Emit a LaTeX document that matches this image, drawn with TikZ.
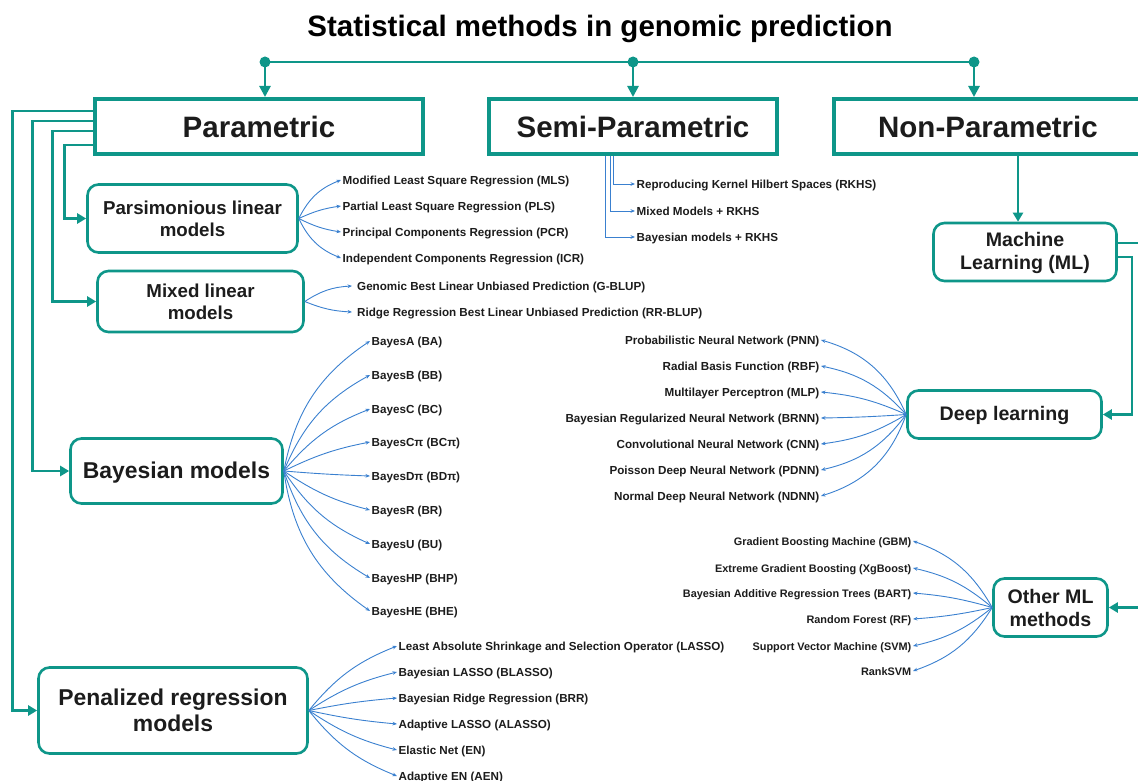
\documentclass[tikz,border=0pt]{standalone}
\usepackage{fontspec}
\setmainfont{Liberation Sans}
\usetikzlibrary{arrows.meta,calc}
\definecolor{tealc}{RGB}{14,150,137}
\definecolor{bluec}{RGB}{58,128,207}
\definecolor{txt}{RGB}{28,28,28}
\tikzset{
 topbox/.style={draw=tealc, line width=3.6pt, minimum height=55.4pt, inner sep=0pt, font=\fontsize{29.5}{34}\selectfont\bfseries, text=txt},
 rbox/.style={draw=tealc, line width=2.6pt, rounded corners=11pt, inner sep=0pt, align=center, text=txt},
 tl/.style={draw=tealc, line width=2.6pt},
 tarr/.style={-{Triangle[length=9pt,width=10pt]}},
 fan/.style={draw=bluec, line width=0.9pt, -{Stealth[length=4.5pt,width=3.6pt]}},
 lbl/.style={font=\fontsize{11.65}{13}\selectfont\bfseries, text=txt, inner sep=1.5pt, text height=11pt, text depth=1.5pt},
 lbls/.style={lbl, font=\fontsize{10.9}{13}\selectfont\bfseries},
 midf/.style={font=\fontsize{18.7}{22}\selectfont\bfseries},
 bigf/.style={font=\fontsize{22.9}{26}\selectfont\bfseries},
 mlf/.style={font=\fontsize{19.6}{23}\selectfont\bfseries},
}
\begin{document}
\begin{tikzpicture}[x=1pt,y=-1pt]
\path[use as bounding box] (0,0) rectangle (1138,781);
\clip (0,0) rectangle (1138,781);

% title
\node[font=\fontsize{29.5}{34}\selectfont\bfseries, text=black] (title) at (600,28.5) {Statistical methods in genomic prediction};

% top-level boxes
\node[topbox, minimum width=328pt] (P) at (259,126.5) {Parametric};
\node[topbox, minimum width=288pt] (S) at (633,126.5) {Semi-Parametric};
\node[topbox, minimum width=308pt] (N) at (988,126.5) {Non-Parametric};

% top bar
\coordinate (dP) at (265,62);
\coordinate (dS) at (633,62);
\coordinate (dN) at (974,62);
\draw[tl] (dP) -- (dN);
\foreach \c in {dP,dS,dN}{
  \fill[tealc] (\c) circle (5.5pt);
  \draw[tl,-{Triangle[length=11pt,width=11pt]}] (\c) -- (\c |- P.north);
}

% parametric children
\node[rbox, midf, minimum width=210pt, minimum height=68pt] (Pars) at (192.5,218.5) {Parsimonious linear\\models};
\node[rbox, midf, minimum width=206pt, minimum height=61pt] (Mix) at (200.5,301.5) {Mixed linear\\models};
\node[rbox, bigf, minimum width=212pt, minimum height=65pt, text depth=2pt] (Bay) at (176.5,471) {Bayesian models};
\node[rbox, bigf, minimum width=269pt, minimum height=86pt] (Pen) at (173,710.5) {Penalized regression\\models};

\draw[tl,tarr] ($(P.north west)+(0,14)$) -- ++(-81,0) |- (Pen.west);
\draw[tl,tarr] ($(P.north west)+(0,24)$) -- ++(-61,0) |- (Bay.west);
\draw[tl,tarr] ($(P.north west)+(0,34)$) -- ++(-41,0) |- (Mix.west);
\draw[tl,tarr] ($(P.north west)+(0,48)$) -- ++(-29,0) |- (Pars.west);

% parsimonious fan
\foreach \i/\ty/\tx in {1/180/Modified Least Square Regression (MLS),2/206/Partial Least Square Regression (PLS),3/232/Principal Components Regression (PCR),4/258/Independent Components Regression (ICR)}{
  \node[lbl,anchor=west] (pa\i) at (341,\ty) {\tx};
  \pgfmathsetmacro\bb{0.5*atan((218.5-\ty)/42)}
  \draw[fan] (Pars.east) to[bend left=\bb] (pa\i.west);
}
% mixed fan
\foreach \i/\ty/\tx in {1/286/Genomic Best Linear Unbiased Prediction (G-BLUP),2/312/Ridge Regression Best Linear Unbiased Prediction (RR-BLUP)}{
  \node[lbl,anchor=west,inner xsep=5pt] (mi\i) at (352,\ty) {\tx};
  \pgfmathsetmacro\bb{0.8*atan((302-\ty)/47)}
  \draw[fan] (Mix.east) to[bend left=\bb] (mi\i.west);
}
% bayesian fan
\foreach \i/\ty/\tx in {1/341/BayesA (BA),2/375/BayesB (BB),3/409/BayesC (BC),4/442/BayesCπ (BCπ),5/476/BayesDπ (BDπ),6/510/BayesR (BR),7/544/BayesU (BU),8/578/BayesHP (BHP),9/611/BayesHE (BHE)}{
  \node[lbl,anchor=west] (ba\i) at (370,\ty) {\tx};
  \pgfmathsetmacro\bb{0.4*atan((471-\ty)/86)}
  \draw[fan] (Bay.east) to[bend left=\bb] (ba\i.west);
}
% penalized fan
\foreach \i/\ty/\tx in {1/646/Least Absolute Shrinkage and Selection Operator (LASSO),2/672/Bayesian LASSO (BLASSO),3/698/Bayesian Ridge Regression (BRR),4/724/Adaptive LASSO (ALASSO),5/750/Elastic Net (EN),6/776/Adaptive EN (AEN)}{
  \node[lbl,anchor=west] (pe\i) at (397,\ty) {\tx};
  \pgfmathsetmacro\bb{0.4*atan((710.5-\ty)/88)}
  \draw[fan] (Pen.east) to[bend left=\bb] (pe\i.west);
}

% semi-parametric
\node[lbl,anchor=west] (s1) at (635,184) {Reproducing Kernel Hilbert Spaces (RKHS)};
\node[lbl,anchor=west] (s2) at (635,211) {Mixed Models + RKHS};
\node[lbl,anchor=west] (s3) at (635,237) {Bayesian models + RKHS};
\draw[fan] ($(S.south west)+(126,0)$) |- (s1.west);
\draw[fan] ($(S.south west)+(123,0)$) |- (s2.west);
\draw[fan] ($(S.south west)+(118,0)$) |- (s3.west);

% non-parametric
\coordinate (mlx) at (1018,0);
\coordinate (mlr) at (1132,0);
\coordinate (edge) at (1150,0);
\node[rbox, mlf, minimum width=183pt, minimum height=58pt, text depth=3pt] (ML) at (1025,252) {Machine\\Learning (ML)};
\node[rbox, mlf, minimum width=194pt, minimum height=48pt, text depth=2pt] (DL) at (1004.5,414.5) {Deep learning};
\node[rbox, mlf, minimum width=114pt, minimum height=58pt] (OML) at (1050.5,607.5) {Other ML\\methods};
\draw[tl,tarr] (N.south -| mlx) -- (ML.north -| mlx);
\draw[tl] ($(ML.east)+(0,-9)$) -- ($(ML.east -| edge)+(0,-9)$);
\draw[tl,tarr] ($(ML.east)+(0,5)$) -| (mlr |- DL.east) -- (DL.east);
\draw[tl,tarr] (OML.east -| edge) -- (OML.east);

% deep learning fan
\foreach \i/\ty/\tx in {1/340/Probabilistic Neural Network (PNN),2/366/Radial Basis Function (RBF),3/392/Multilayer Perceptron (MLP),4/418/Bayesian Regularized Neural Network (BRNN),5/444/Convolutional Neural Network (CNN),6/470/Poisson Deep Neural Network (PDNN),7/496/Normal Deep Neural Network (NDNN)}{
  \node[lbl,anchor=east] (dl\i) at (821,\ty) {\tx};
  \pgfmathsetmacro\bb{-0.6*atan((414.5-\ty)/84)}
  \draw[fan] (DL.west) to[bend left=\bb] (dl\i.east);
}
% other ML fan
\foreach \i/\ty/\tx in {1/541/Gradient Boosting Machine (GBM),2/568/Extreme Gradient Boosting (XgBoost),3/593/Bayesian Additive Regression Trees (BART),4/619/Random Forest (RF),5/646/Support Vector Machine (SVM),6/671/RankSVM}{
  \node[lbls,anchor=east] (om\i) at (913,\ty) {\tx};
  \pgfmathsetmacro\bb{-0.5*atan((608-\ty)/78)}
  \draw[fan] (OML.west) to[bend left=\bb] (om\i.east);
}
\end{tikzpicture}
\end{document}
